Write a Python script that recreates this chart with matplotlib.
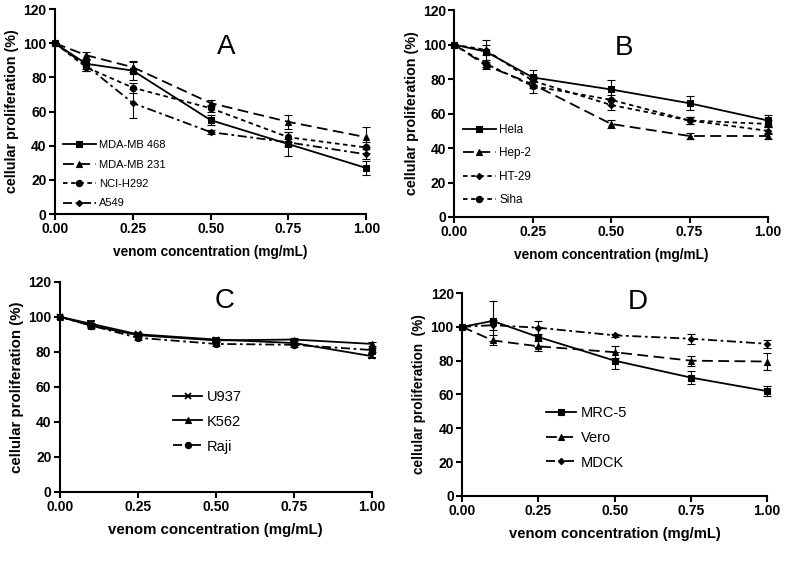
import numpy as np
import matplotlib
matplotlib.use("Agg")
import matplotlib.pyplot as plt

plt.rcParams["font.family"] = ["Liberation Sans", "DejaVu Sans"]

conc = [0.0, 0.1, 0.25, 0.5, 0.75, 1.0]

# Panel A
a_names = ["MDA-MB 468", "MDA-MB 231", "NCI-H292", "A549"]
a_vals = [
    [100, 88, 84, 55, 41, 27],
    [100, 93, 86, 65, 54, 45],
    [100, 86, 74, 62, 45, 39],
    [100, 87, 65, 48, 42, 35],
]
a_err = [
    [0, 3, 5.5, 3, 7, 4],
    [0, 2, 3, 2, 4, 6],
    [0, 2, 3, 2, 3, 3],
    [0, 3, 8.5, 1, 2, 3],
]

# Panel B
b_names = ["Hela", "Hep-2", "HT-29", "Siha"]
b_vals = [
    [100, 96, 81, 74, 66, 56],
    [100, 88, 77, 54, 47, 47],
    [100, 97, 79, 65, 56, 50],
    [100, 89, 76, 68, 56, 54],
]
b_err = [
    [0, 7, 4.5, 5.5, 4, 3],
    [0, 2, 2, 2.5, 1.5, 1.5],
    [0, 3, 3, 3, 2, 2],
    [0, 2, 4, 3, 2, 2],
]

# Panel C
c_names = ["U937", "K562", "Raji"]
c_vals = [
    [100, 96, 90, 87, 85, 77.5],
    [100, 95, 89.5, 86.5, 87, 84.5],
    [100, 95, 88, 84.5, 84, 81],
]
c_err = [
    [0, 1.5, 1, 1, 1, 1],
    [0, 1.5, 1, 1, 1, 1],
    [0, 1, 1, 1, 1, 1],
]

# Panel D
d_names = ["MRC-5", "Vero", "MDCK"]
d_vals = [
    [100, 103.5, 94, 80, 70, 62],
    [100, 92, 88.5, 85, 80, 79.5],
    [100, 101, 99.5, 95, 93, 90],
]
d_err = [
    [0, 12, 6, 5, 4, 3],
    [0, 3, 3, 3.5, 3, 5],
    [0, 3, 4, 1, 3, 2.5],
]

solid = "-"
dashed = (0, (6, 3))
dotted = (0, (2.5, 2))
dashdot = (0, (5, 2, 1.5, 2))

panels = [
    dict(rect=[0.070, 0.623, 0.396, 0.361], letter="A", lpos=(0.55, 98),
         names=a_names, vals=a_vals, err=a_err,
         styles=[solid, dashed, dotted, dashdot], markers=["s", "^", "o", "D"],
         leg=dict(loc="lower left", bbox_to_anchor=(0.0, -0.01), fontsize=8, labelspacing=0.85,
                  handlelength=3.0),
         xfs=9.8, yfs=10.3, ylabel="cellular proliferation (%)"),
    dict(rect=[0.578, 0.618, 0.399, 0.364], letter="B", lpos=(0.54, 98),
         names=b_names, vals=b_vals, err=b_err,
         styles=[solid, dashed, dotted, dotted], markers=["s", "^", "D", "o"],
         leg=dict(loc="lower left", bbox_to_anchor=(0.0, 0.012), fontsize=8.5, labelspacing=0.97,
                  handlelength=2.8),
         xfs=9.8, yfs=10.3, ylabel="cellular proliferation (%)"),
    dict(rect=[0.076, 0.134, 0.397, 0.370], letter="C", lpos=(0.53, 109),
         names=c_names, vals=c_vals, err=c_err,
         styles=[solid, solid, dashdot], markers=["x", "^", "o"],
         leg=dict(loc="upper left", bbox_to_anchor=(0.33, 0.535), fontsize=10.5, labelspacing=0.75,
                  handlelength=2.0),
         xfs=10.8, yfs=10.8, ylabel="cellular proliferation (%)"),
    dict(rect=[0.588, 0.127, 0.388, 0.357], letter="D", lpos=(0.577, 115),
         names=d_names, vals=d_vals, err=d_err,
         styles=[solid, dashed, dashdot], markers=["s", "^", "D"],
         leg=dict(loc="upper left", bbox_to_anchor=(0.24, 0.495), fontsize=10.5, labelspacing=0.75,
                  handlelength=2.1),
         xfs=10.6, yfs=9.8, ylabel="cellular proliferation  (%)"),
]

fig = plt.figure(figsize=(7.86, 5.68), dpi=100)

for p in panels:
    ax = fig.add_axes(p["rect"])
    for name, v, e, ls, mk in zip(p["names"], p["vals"], p["err"], p["styles"], p["markers"]):
        ms = 4.5 if mk != "D" else 3.2
        ax.errorbar(conc, v, yerr=e, color="black", linestyle=ls, linewidth=1.3,
                    marker=mk, markersize=ms, markeredgewidth=1.3 if mk == "x" else 0.8,
                    capsize=3, elinewidth=0.8, capthick=0.8, label=name, clip_on=False)
    ax.set_xlim(0, 1.0)
    ax.set_ylim(0, 120)
    ax.set_xticks([0, 0.25, 0.5, 0.75, 1.0])
    ax.set_xticklabels(["0.00", "0.25", "0.50", "0.75", "1.00"])
    ax.set_yticks(range(0, 121, 20))
    ax.spines["top"].set_visible(False)
    ax.spines["right"].set_visible(False)
    ax.spines["left"].set_linewidth(1.5)
    ax.spines["bottom"].set_linewidth(1.5)
    ax.tick_params(width=1.5, length=4, labelsize=10, pad=2)
    for t in ax.get_xticklabels() + ax.get_yticklabels():
        t.set_fontweight("bold")
    ax.set_xlabel("venom concentration (mg/mL)", fontsize=p["xfs"], fontweight="bold", labelpad=6)
    ax.set_ylabel(p["ylabel"], fontsize=p["yfs"], fontweight="bold", labelpad=3)
    ax.text(p["lpos"][0], p["lpos"][1], p["letter"], fontsize=20, ha="center", va="center")
    handles, labels = ax.get_legend_handles_labels()
    handles = [h[0] for h in handles]
    ax.legend(handles, labels, frameon=False, handletextpad=0.3,
              borderaxespad=0.3, **p["leg"])

fig.savefig("out.png", dpi=100)
